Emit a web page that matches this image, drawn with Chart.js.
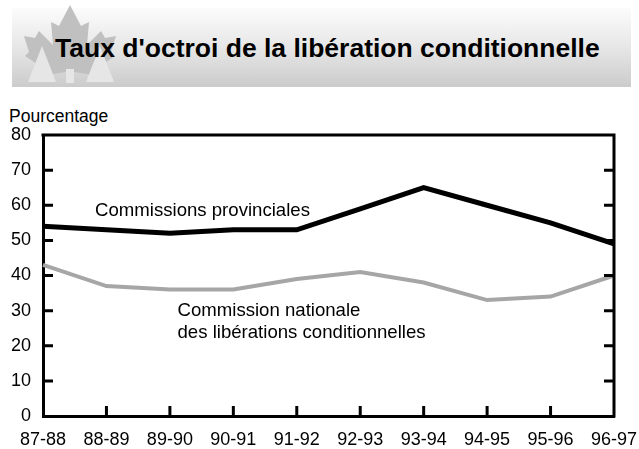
<!DOCTYPE html>
<html>
<head>
<meta charset="utf-8">
<script src="https://cdn.jsdelivr.net/npm/chart.js@4"></script>
<style>
  html, body { margin: 0; padding: 0; background: #fff; }
  #wrap { position: relative; width: 639px; height: 449px; overflow: hidden; font-family: "Liberation Sans", Arial, sans-serif; }
  #banner { position: absolute; left: 12px; top: 8px; width: 619px; height: 79px;
            background: linear-gradient(to bottom, #fcfcfc 0%, #e4e4e4 55%, #cbcbcb 100%); }
  #leaf { position: absolute; left: 0; top: 0; }
  #title { position: absolute; left: 55px; top: 33px; font-weight: bold; font-size: 26.5px; color: #000; white-space: nowrap; line-height: 30px; }
  #ylab { position: absolute; left: 9px; top: 106px; font-size: 17.5px; color: #000; line-height: 20px; }
  #c { position: absolute; left: 0; top: 0; }
</style>
</head>
<body>
<div id="wrap">
  <div id="banner"></div>
  <svg id="leaf" width="639" height="100" viewBox="0 0 639 100">
    <polygon fill="#c0c0c0" points="70,5 81,26 89,22 87,45 101,31 105,38 116,36 111,52 115,56 97,68 99,76 74,72 74,83 66,83 66,72 41,76 43,68 25,56 29,52 24,36 35,38 39,31 53,45 51,22 59,26"/>
    <polygon fill="#e6e6e6" points="28,82 42,46 56,82"/>
    <polygon fill="#e6e6e6" points="86,82 100,46 114,82"/>
    <rect fill="#e6e6e6" x="66" y="69" width="8" height="14"/>
  </svg>
  <div id="title">Taux d'octroi de la libération conditionnelle</div>
  <div id="ylab">Pourcentage</div>
  <canvas id="c" width="639" height="449"></canvas>
</div>
<script>
const categories = ["87-88","88-89","89-90","90-91","91-92","92-93","93-94","94-95","95-96","96-97"];
const provincialValues = [54, 53, 52, 53, 53, 59, 65, 60, 55, 49];
const nationalValues = [43, 37, 36, 36, 39, 41, 38, 33, 34, 40];
const provincialLabel = ["Commissions provinciales"];
const nationalLabel = ["Commission nationale", "des libérations conditionnelles"];
const yTicks = [0, 10, 20, 30, 40, 50, 60, 70, 80];

const FONT = '"Liberation Sans", Arial, sans-serif';

const framePlugin = {
  id: 'frame',
  afterDatasetsDraw(chart) {
    const {ctx, chartArea: a, scales: {x, y}} = chart;
    ctx.save();
    ctx.strokeStyle = '#000';
    ctx.lineWidth = 3;
    ctx.lineCap = 'butt';
    ctx.beginPath();
    ctx.moveTo(a.left - 1.5, a.top);
    ctx.lineTo(a.right, a.top);
    ctx.lineTo(a.right, a.bottom + 1.5);
    ctx.stroke();
    yTicks.forEach(v => {
      if (v === 0 || v === 80) return;
      const py = y.getPixelForValue(v);
      ctx.beginPath();
      ctx.moveTo(a.left, py); ctx.lineTo(a.left + 10, py);
      ctx.moveTo(a.right, py); ctx.lineTo(a.right - 10, py);
      ctx.stroke();
    });
    categories.forEach((c, i) => {
      if (i === 0 || i === categories.length - 1) return;
      const px = x.getPixelForValue(i);
      ctx.beginPath();
      ctx.moveTo(px, a.bottom); ctx.lineTo(px, a.bottom - 10);
      ctx.stroke();
    });
    ctx.restore();
  }
};

const notePlugin = {
  id: 'notes',
  afterDraw(chart, args, opts) {
    const {ctx, scales: {x, y}} = chart;
    ctx.save();
    ctx.fillStyle = '#000';
    ctx.font = '18.6px ' + FONT;
    ctx.textAlign = 'left';
    ctx.textBaseline = 'middle';
    opts.items.forEach(it => {
      const px = x.getPixelForValue(it.xi);
      it.lines.forEach((t, k) => {
        const py = y.getPixelForValue(it.yv) + k * it.lh;
        ctx.fillText(t, px, py);
      });
    });
    ctx.restore();
  }
};

new Chart(document.getElementById('c'), {
  type: 'line',
  data: {
    labels: categories,
    datasets: [
      { data: provincialValues, borderColor: '#000', borderWidth: 5, pointRadius: 0, tension: 0, fill: false, borderJoinStyle: 'miter' },
      { data: nationalValues, borderColor: '#a6a6a6', borderWidth: 4, pointRadius: 0, tension: 0, fill: false }
    ]
  },
  options: {
    responsive: false,
    animation: false,
    layout: { padding: { top: 135, right: 25, left: 0, bottom: 0 } },
    plugins: {
      legend: { display: false },
      tooltip: { enabled: false },
      notes: { items: [
        { xi: 0.82, yv: 58.5, lh: 0, lines: provincialLabel },
        { xi: 2.12, yv: 30.0, lh: 22, lines: nationalLabel }
      ] }
    },
    scales: {
      x: {
        type: 'category',
        offset: false,
        grid: { display: false, drawTicks: false },
        border: { display: true, color: '#000', width: 3 },
        ticks: { color: '#000', font: { size: 18, family: FONT }, padding: 13, maxRotation: 0, autoSkip: false },
        afterFit(s) { s.height = 33; s.paddingRight = 0; s.paddingLeft = 0; }
      },
      y: {
        min: 0, max: 80,
        grid: { display: false, drawTicks: false },
        border: { display: true, color: '#000', width: 3 },
        ticks: { stepSize: 10, color: '#000', font: { size: 18, family: FONT }, padding: 12 },
        afterFit(s) { s.width = 43; }
      }
    }
  },
  plugins: [framePlugin, notePlugin]
});
</script>
</body>
</html>
